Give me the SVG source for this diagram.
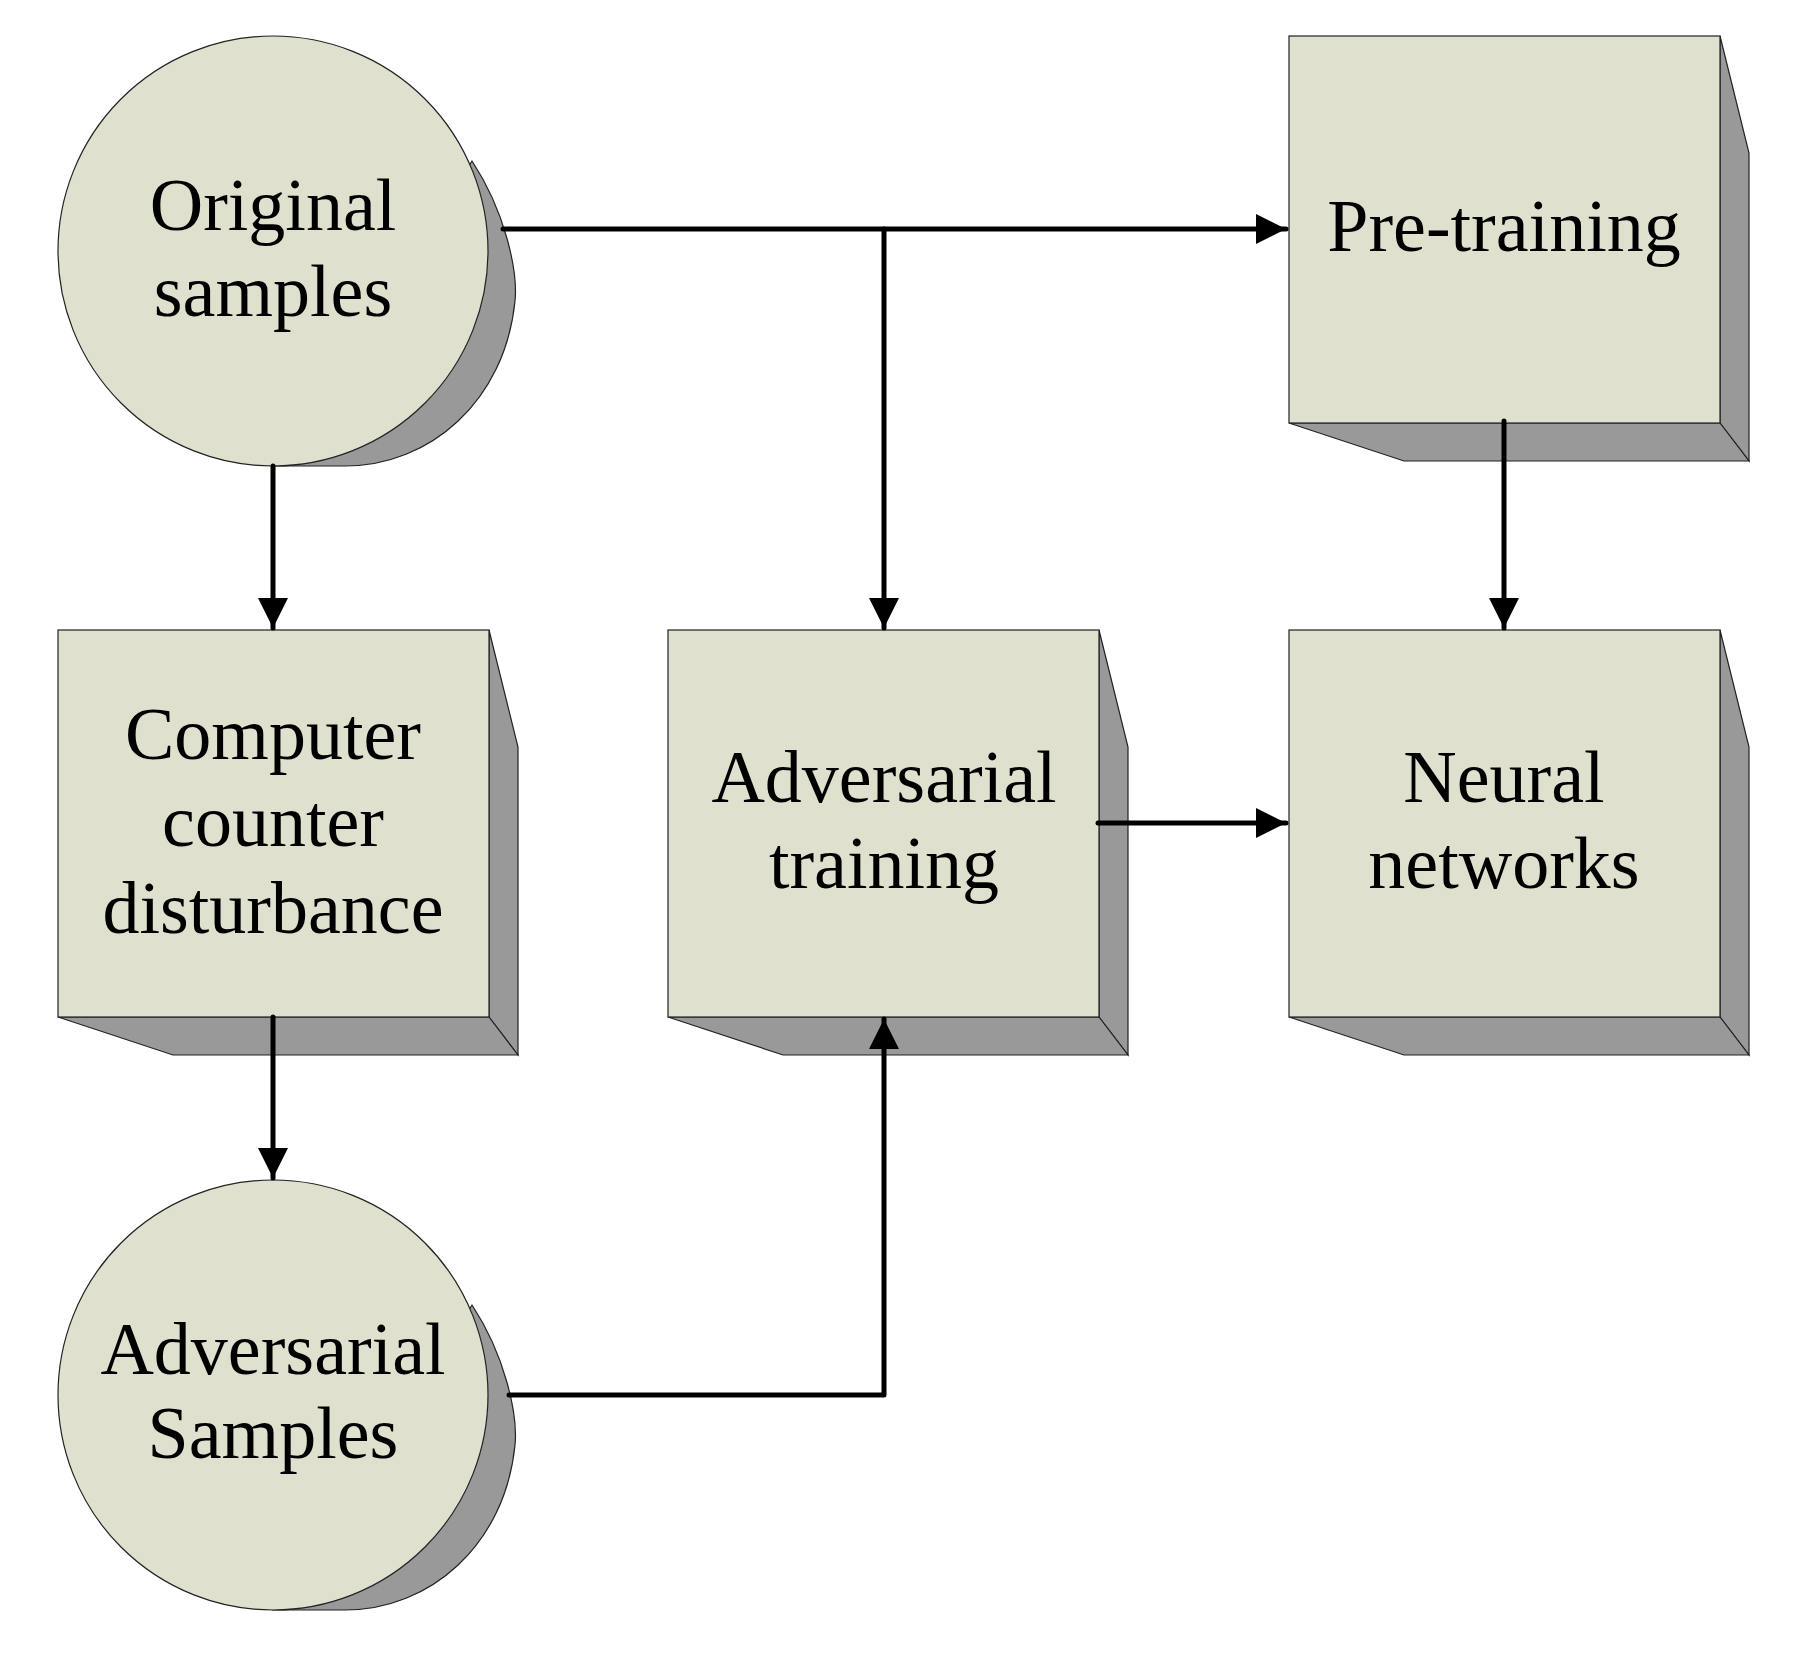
<svg xmlns="http://www.w3.org/2000/svg" width="1800" height="1664" viewBox="0 0 1800 1664">
<style>
.f{fill:#dfe0cd;stroke:#222;stroke-width:1.2}
.s{fill:#999;stroke:#222;stroke-width:1.2}
.t{font-family:"Liberation Serif","DejaVu Serif",serif;font-size:74px;text-anchor:middle;fill:#000}
.c{fill:none;stroke:#000;stroke-width:5;stroke-linecap:round;stroke-linejoin:round}
</style>
<defs>
<marker id="a" viewBox="0 0 10 10" refX="10" refY="5" markerWidth="6" markerHeight="6" markerUnits="strokeWidth" orient="auto"><path d="M0,0L10,5L0,10Z" fill="#000"/></marker>
<g id="box"><path class="s" d="M431,0L460,117L460,425L431,387Z"/><path class="s" d="M0,387L115,425L460,425L431,387Z"/><rect class="f" width="431" height="387"/></g>
<g id="cyl"><path class="s" d="M199,-90C232,-40 245,20 242,50C232,150 157,215 72,215L0,215Z"/><circle class="f" r="215"/></g>
</defs>
<g id="original"><use href="#cyl" x="273" y="251"/><text class="t" x="273" y="230">Original</text><text class="t" x="273" y="316">samples</text></g>
<g id="pretraining"><use href="#box" x="1289" y="36"/><text class="t" x="1504" y="251">Pre-training</text></g>
<g id="computer"><use href="#box" x="58" y="630"/><text class="t" x="273" y="759">Computer</text><text class="t" x="273" y="846">counter</text><text class="t" x="273" y="933">disturbance</text></g>
<g id="advtraining"><use href="#box" x="668" y="630"/><text class="t" x="884" y="802">Adversarial</text><text class="t" x="884" y="888">training</text></g>
<g id="neural"><use href="#box" x="1289" y="630"/><text class="t" x="1504" y="802">Neural</text><text class="t" x="1504" y="888">networks</text></g>
<g id="advsamples"><use href="#cyl" x="273" y="1395"/><text class="t" x="273" y="1374">Adversarial</text><text class="t" x="273" y="1458">Samples</text></g>
<g id="connectors">
<path class="c" d="M503,229H1286" marker-end="url(#a)"/>
<path class="c" d="M884,229V628" marker-end="url(#a)"/>
<path class="c" d="M273,466V628" marker-end="url(#a)"/>
<path class="c" d="M1504,421V628" marker-end="url(#a)"/>
<path class="c" d="M1098,823H1286" marker-end="url(#a)"/>
<path class="c" d="M273,1017V1178" marker-end="url(#a)"/>
<path class="c" d="M509,1395H884V1019" marker-end="url(#a)"/>
</g>
</svg>
